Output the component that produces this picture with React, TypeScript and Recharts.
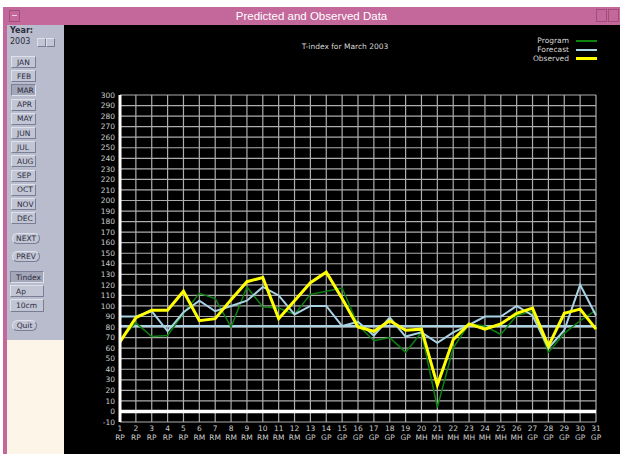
import React from 'react';
import { LineChart, Line, XAxis, YAxis, CartesianGrid, ReferenceLine, Legend } from 'recharts';

const days = [1, 2, 3, 4, 5, 6, 7, 8, 9, 10, 11, 12, 13, 14, 15, 16, 17, 18, 19, 20, 21, 22, 23, 24, 25, 26, 27, 28, 29, 30, 31];
const codes = ['RP', 'RP', 'RP', 'RP', 'RP', 'RM', 'RM', 'RM', 'RM', 'RM', 'RM', 'RM', 'GP', 'GP', 'GP', 'GP', 'GP', 'GP', 'GP', 'MH', 'MH', 'MH', 'MH', 'MH', 'MH', 'MH', 'GP', 'GP', 'GP', 'GP', 'GP'];
const program = [68, 84, 71, 72, 93, 112, 107, 80, 118, 99, 98, 92, 111, 114, 117, 82, 67, 70, 56, 75, 4, 60, 83, 81, 73, 91, 95, 56, 74, 86, 96];
const forecast = [90, 90, 95, 76, 94, 105, 95, 100, 105, 118, 110, 92, 100, 100, 81, 85, 72, 89, 71, 75, 65, 75, 82, 90, 90, 100, 91, 60, 77, 120, 91];
const observed = [66, 89, 96, 96, 114, 86, 88, 106, 123, 127, 88, 105, 122, 132, 107, 80, 76, 86, 77, 78, 25, 68, 83, 78, 83, 93, 98, 62, 93, 97, 78];
const forecastLevel = 81;
const yTicks = [-10, 0, 10, 20, 30, 40, 50, 60, 70, 80, 90, 100, 110, 120, 130, 140, 150, 160, 170, 180, 190, 200, 210, 220, 230, 240, 250, 260, 270, 280, 290, 300];
const months = ['JAN', 'FEB', 'MAR', 'APR', 'MAY', 'JUN', 'JUL', 'AUG', 'SEP', 'OCT', 'NOV', 'DEC'];
const chartTitle = 'T-index for March 2003';
const windowTitle = 'Predicted and Observed Data';

const data = days.map((d, i) => ({
  day: d,
  code: codes[i],
  program: program[i],
  forecast: forecast[i],
  observed: observed[i],
}));

const GUI_FONT = '"DejaVu Sans", "Liberation Sans", sans-serif';
const PINK = '#c4679b';
const PANEL = '#b8bccc';

const series = [
  { key: 'program', name: 'Program', color: '#0c820f', width: 1.5 },
  { key: 'forecast', name: 'Forecast', color: '#a9d3e4', width: 2 },
  { key: 'observed', name: 'Observed', color: '#ffff00', width: 3 },
];

const XTick = (props: any) => {
  const { x, y, payload } = props;
  const idx = days.indexOf(payload.value);
  return (
    <g transform={`translate(${x},${y})`}>
      <text x={0} y={0} dy={8} textAnchor="middle" fill="#cccccc" fontSize={7.5} fontFamily={GUI_FONT}>
        {payload.value}
      </text>
      <text x={0} y={0} dy={17} textAnchor="middle" fill="#cccccc" fontSize={7.5} fontFamily={GUI_FONT}>
        {codes[idx]}
      </text>
    </g>
  );
};

const LegendContent = () => (
  <div style={{ fontFamily: GUI_FONT, fontSize: 7.5, color: '#d8d8d8' }}>
    {series.map((s) => (
      <div key={s.key} style={{ display: 'flex', alignItems: 'center', justifyContent: 'flex-end', height: 9 }}>
        <span style={{ marginRight: 7 }}>{s.name}</span>
        <span style={{ display: 'inline-block', width: 21, height: s.key === 'observed' ? 3 : 2, background: s.color }} />
      </div>
    ))}
  </div>
);

const Btn = ({ label, top, left, width, height, pressed, rounded }: any) => (
  <div
    style={{
      position: 'absolute',
      top,
      left,
      width,
      height,
      boxSizing: 'border-box',
      background: pressed ? '#a3a7b9' : '#c2c5d4',
      borderTop: `1px solid ${pressed ? '#7c8098' : '#dfe1ea'}`,
      borderLeft: `1px solid ${pressed ? '#7c8098' : '#dfe1ea'}`,
      borderBottom: `1px solid ${pressed ? '#dfe1ea' : '#7a7e94'}`,
      borderRight: `1px solid ${pressed ? '#dfe1ea' : '#7a7e94'}`,
      borderRadius: rounded ? 6 : 0,
      fontFamily: GUI_FONT,
      fontSize: 7.5,
      color: '#2c2c3c',
      display: 'flex',
      alignItems: 'center',
      justifyContent: rounded ? 'center' : 'flex-start',
      paddingLeft: rounded ? 0 : 5,
    }}
  >
    {label}
  </div>
);

export default function App() {
  return (
    <div style={{ position: 'absolute', left: 0, top: 0, width: 620, height: 454, background: '#ffffff', overflow: 'hidden' }}>
      {/* title bar */}
      <div style={{ position: 'absolute', left: 3, top: 7, width: 617, height: 18, background: PINK }} />
      <div style={{ position: 'absolute', left: 9, top: 10, width: 11, height: 12, border: '1px solid #a04f7c', boxSizing: 'border-box' }}>
        <div style={{ position: 'absolute', left: 2, top: 4, width: 5, height: 1, background: '#f0d0e0' }} />
      </div>
      <div style={{ position: 'absolute', left: 596, top: 9, width: 11, height: 13, border: '1px solid #a04f7c', boxSizing: 'border-box' }} />
      <div style={{ position: 'absolute', left: 608, top: 9, width: 11, height: 13, border: '1px solid #a04f7c', boxSizing: 'border-box' }} />
      <div style={{ position: 'absolute', left: 3, top: 7, width: 617, height: 18, display: 'flex', alignItems: 'center', justifyContent: 'center', color: '#ffffff', fontFamily: '"Liberation Sans", Arial, sans-serif', fontSize: 11.5 }}>
        {windowTitle}
      </div>
      {/* left frame */}
      <div style={{ position: 'absolute', left: 3, top: 25, width: 4, height: 429, background: PINK }} />
      {/* left panel */}
      <div style={{ position: 'absolute', left: 7, top: 25, width: 57, height: 315, background: PANEL }} />
      <div style={{ position: 'absolute', left: 7, top: 340, width: 57, height: 114, background: '#fcf5e8' }} />
      <div style={{ position: 'absolute', left: 10, top: 26, fontFamily: GUI_FONT, fontSize: 8, fontWeight: 'bold', color: '#2c2c3c' }}>Year:</div>
      <div style={{ position: 'absolute', left: 10, top: 37, fontFamily: GUI_FONT, fontSize: 8, color: '#2c2c3c' }}>2003</div>
      <Btn label="" top={38} left={37} width={9} height={9} />
      <Btn label="" top={38} left={46} width={9} height={9} />
      {months.map((m, i) => (
        <Btn key={m} label={m} top={56 + i * 14.2} left={11} width={25} height={12} pressed={m === 'MAR'} />
      ))}
      <Btn label="NEXT" top={233} left={12} width={28} height={11} rounded />
      <Btn label="PREV" top={251} left={12} width={28} height={11} rounded />
      <Btn label="Tindex" top={271} left={10} width={34} height={12} pressed />
      <Btn label="Ap" top={285} left={10} width={34} height={12} />
      <Btn label="10cm" top={299} left={10} width={34} height={13} />
      <Btn label="Quit" top={320} left={12} width={25} height={11} rounded />
      {/* chart area */}
      <div style={{ position: 'absolute', left: 64, top: 25, width: 556, height: 429, background: '#000000' }}>
        <div style={{ position: 'absolute', left: 200, top: 17, width: 162, textAlign: 'center', fontFamily: GUI_FONT, fontSize: 7.5, color: '#d8d8d8' }}>
          {chartTitle}
        </div>
        <LineChart width={556} height={429} data={data} margin={{ top: 43, right: 24, bottom: 0, left: 0 }}>
          <CartesianGrid stroke="#adadad" strokeWidth={1.2} />
          <XAxis
            dataKey="day"
            type="number"
            domain={[1, 31]}
            ticks={days}
            interval={0}
            height={32}
            axisLine={false}
            tickLine={false}
            tickSize={0}
            tickMargin={1}
            tick={<XTick />}
          />
          <YAxis
            type="number"
            domain={[-10, 300]}
            ticks={yTicks}
            interval={0}
            width={56}
            axisLine={{ stroke: '#ffffff', strokeWidth: 3 }}
            tickLine={false}
            tickSize={0}
            tickMargin={5}
            tick={{ fill: '#cccccc', fontSize: 7.5, fontFamily: GUI_FONT }}
          />
          <ReferenceLine y={0} stroke="#ffffff" strokeWidth={3.5} />
          <ReferenceLine y={forecastLevel} stroke="#a9d3e4" strokeWidth={2} />
          <Legend
            verticalAlign="top"
            align="right"
            content={<LegendContent />}
            wrapperStyle={{ top: 11, right: 23, left: 'auto', width: 'auto' }}
          />
          {series.map((s) => (
            <Line
              key={s.key}
              type="linear"
              dataKey={s.key}
              name={s.name}
              stroke={s.color}
              strokeWidth={s.width}
              dot={false}
              activeDot={false}
              isAnimationActive={false}
            />
          ))}
        </LineChart>
      </div>
    </div>
  );
}
